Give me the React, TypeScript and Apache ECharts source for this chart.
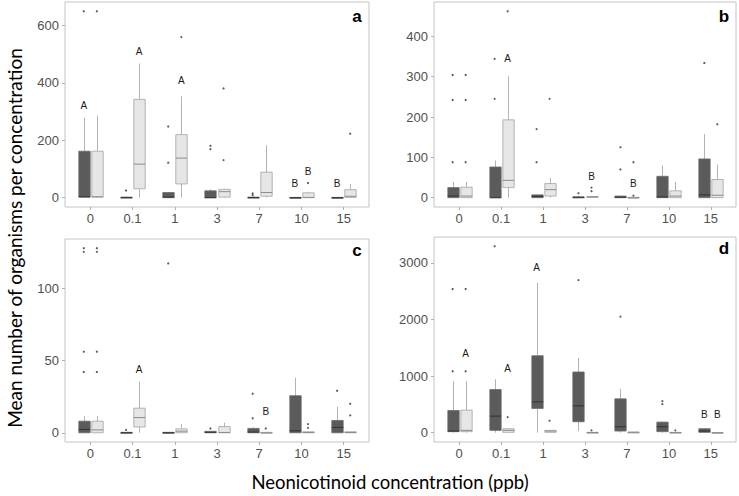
import React, { useEffect, useRef } from "react";
import * as echarts from "echarts";

const categories = ["0", "0.1", "1", "3", "7", "10", "15"];

// Box statistics per concentration: [lower whisker, Q1, median, Q3, upper whisker]
const aDarkBoxes = [
  [0, 2, 3, 162, 279],
  [0, 0, 0, 2, 4],
  [0, 0, 2, 18, 20],
  [0, 0, 0, 24, 30],
  [0, 0, 0, 2, 4],
  [0, 0, 0, 1, 1],
  [0, 0, 0, 1, 2],
];
const aLightBoxes = [
  [0, 2, 3, 162, 286],
  [0, 31, 117, 343, 468],
  [0, 48, 138, 220, 354],
  [0, 2, 21, 29, 31],
  [0, 5, 18, 89, 183],
  [0, 0, 1, 17, 20],
  [0, 1, 5, 28, 48],
];
// outliers: [category index, value]
const aDarkOutliers = [[0, 650], [1, 25], [2, 248], [2, 122], [3, 181], [3, 169], [4, 15], [4, 9]];
const aLightOutliers = [[0, 650], [2, 560], [3, 131], [3, 381], [5, 51], [6, 223]];
// letters: [category index, side (0 dark, 1 light), value, text]
const aLetters = [[0, 0, 320, "A"], [1, 1, 509, "A"], [2, 1, 408, "A"], [5, 0, 51, "B"], [5, 1, 93, "B"], [6, 0, 51, "B"]];
const aTicks = [0, 200, 400, 600];

const bDarkBoxes = [
  [0, 0, 4, 25, 39],
  [0, 0, 0, 76, 92],
  [0, 0, 3, 7, 7],
  [0, 0, 1, 2, 3],
  [0, 0, 1, 4, 5],
  [0, 0, 2, 53, 80],
  [0, 0, 7, 96, 158],
];
const bLightBoxes = [
  [0, 0, 4, 26, 39],
  [0, 25, 43, 193, 301],
  [0, 4, 20, 35, 49],
  [0, 1, 2, 3, 4],
  [0, 0, 0, 1, 2],
  [0, 0, 4, 17, 39],
  [0, 0, 6, 45, 82],
];
const bDarkOutliers = [[0, 88], [0, 242], [0, 304], [1, 245], [1, 344], [2, 170], [2, 88], [3, 11], [4, 125], [4, 70], [6, 334]];
const bLightOutliers = [[0, 88], [0, 242], [0, 304], [1, 462], [2, 245], [3, 16], [3, 25], [4, 88], [4, 5], [6, 182]];
const bLetters = [[1, 1, 345, "A"], [3, 1, 53, "B"], [4, 1, 35, "B"]];
const bTicks = [0, 100, 200, 300, 400];

const cDarkBoxes = [
  [0, 0, 2.3, 8, 11.4],
  [0, 0, 0, 0.3, 0.3],
  [0, 0, 0, 0.3, 0.3],
  [0, 0, 0.3, 1, 1],
  [0, 0, 0.5, 3, 4],
  [0, 0, 1.4, 25.6, 38],
  [0, 0, 3.7, 8.5, 18],
];
const cLightBoxes = [
  [0, 0, 2, 8, 11.4],
  [0, 4, 10.5, 17, 35.5],
  [0, 0, 1.1, 2.7, 6],
  [0, 0, 0.2, 4.3, 7],
  [0, 0, 0, 0.3, 0.3],
  [0, 0, 0.2, 0.7, 0.7],
  [0, 0, 0.2, 0.7, 0.7],
];
const cDarkOutliers = [[0, 42], [0, 56], [0, 125], [0, 127.5], [1, 2], [2, 117], [3, 3], [4, 10], [4, 27], [6, 29]];
const cLightOutliers = [[0, 42], [0, 56], [0, 125], [0, 127.5], [4, 3], [5, 3.4], [5, 6], [6, 12], [6, 20]];
const cLetters = [[1, 1, 44, "A"], [4, 1, 14.4, "B"]];
const cTicks = [0, 50, 100];

const dDarkBoxes = [
  [0, 18, 29, 392, 908],
  [0, 41, 293, 762, 943],
  [0, 428, 545, 1359, 2648],
  [29, 193, 474, 1072, 1318],
  [0, 29, 105, 598, 773],
  [0, 18, 105, 187, 193],
  [0, 6, 29, 70, 82],
];
const dLightBoxes = [
  [0, 18, 41, 398, 908],
  [0, 6, 41, 70, 80],
  [0, 6, 29, 41, 41],
  [0, 0, 3, 6, 10],
  [0, 0, 6, 12, 15],
  [0, 0, 3, 6, 8],
  [0, 0, 0, 3, 3],
];
const dDarkOutliers = [[0, 1084], [0, 2537], [1, 3292], [3, 2695], [4, 2050], [5, 556], [5, 504]];
const dLightOutliers = [[0, 1084], [0, 2537], [1, 275], [2, 211], [3, 41], [5, 41]];
const dLetters = [[0, 1, 1406, "A"], [1, 1, 1125, "A"], [2, 0, 2917, "A"], [6, 0, 322, "B"], [6, 1, 322, "B"]];
const dTicks = [0, 1000, 2000, 3000];

const panelLabels = ["a", "b", "c", "d"];

const DARK_FILL = "#5b5b5b";
const LIGHT_FILL = "#e6e6e6";
const BOX_STROKE = "#a3a3a3";
const WHISKER = "#b3b3b3";
const OFFSET = 0.155;
const BOX_W = 0.27;

function boxSeries(boxes: number[][], side: number, xi: number, fill: string, medColor: string, stroke: string) {
  const off = side === 0 ? -OFFSET : OFFSET;
  return {
    type: "custom",
    xAxisIndex: xi,
    yAxisIndex: xi,
    data: boxes.map((b, j) => [j + off, ...b]),
    encode: { x: 0, y: [1, 2, 3, 4, 5] },
    renderItem: (params: any, api: any) => {
      const x = api.value(0);
      const lo = api.coord([x, api.value(1)]);
      const q1 = api.coord([x, api.value(2)]);
      const med = api.coord([x, api.value(3)]);
      const q3 = api.coord([x, api.value(4)]);
      const hi = api.coord([x, api.value(5)]);
      const w = api.size([BOX_W, 0])[0];
      const cx = Math.round(q3[0]) + 0.5;
      const top = q3[1];
      const h = Math.max(q1[1] - q3[1], 1);
      return {
        type: "group",
        children: [
          { type: "line", shape: { x1: cx, y1: hi[1], x2: cx, y2: q3[1] }, style: { stroke: WHISKER, lineWidth: 1 } },
          { type: "line", shape: { x1: cx, y1: q1[1], x2: cx, y2: lo[1] }, style: { stroke: WHISKER, lineWidth: 1 } },
          { type: "rect", shape: { x: cx - w / 2, y: top, width: w, height: h }, style: { fill, stroke, lineWidth: 0.8 } },
          { type: "line", shape: { x1: cx - w / 2, y1: med[1], x2: cx + w / 2, y2: med[1] }, style: { stroke: medColor, lineWidth: 1 } },
        ],
      };
    },
    z: 2,
  };
}

function outlierSeries(pts: number[][], side: number, xi: number) {
  const off = side === 0 ? -OFFSET : OFFSET;
  return {
    type: "scatter",
    xAxisIndex: xi,
    yAxisIndex: xi,
    symbol: "circle",
    symbolSize: 2.2,
    itemStyle: { color: "#333" },
    data: pts.map((p) => [p[0] + off, p[1]]),
    z: 3,
  };
}

function letterSeries(letters: any[][], xi: number) {
  return {
    type: "custom",
    xAxisIndex: xi,
    yAxisIndex: xi,
    data: letters.map((l) => [l[0] + (l[1] === 0 ? -OFFSET : OFFSET), l[2], l[3]]),
    encode: { x: 0, y: 1 },
    renderItem: (params: any, api: any) => {
      const p = api.coord([api.value(0), api.value(1)]);
      const t = letters[params.dataIndex][3];
      return {
        type: "text",
        x: p[0],
        y: p[1],
        style: { text: t, fill: "#1a1a1a", fontSize: 10, fontFamily: "Liberation Sans", textAlign: "center", textVerticalAlign: "middle" },
      };
    },
    z: 4,
  };
}

const panels = [
  { dark: aDarkBoxes, light: aLightBoxes, dOut: aDarkOutliers, lOut: aLightOutliers, letters: aLetters, ticks: aTicks },
  { dark: bDarkBoxes, light: bLightBoxes, dOut: bDarkOutliers, lOut: bLightOutliers, letters: bLetters, ticks: bTicks },
  { dark: cDarkBoxes, light: cLightBoxes, dOut: cDarkOutliers, lOut: cLightOutliers, letters: cLetters, ticks: cTicks },
  { dark: dDarkBoxes, light: dLightBoxes, dOut: dDarkOutliers, lOut: dLightOutliers, letters: dLetters, ticks: dTicks },
];

// y range with 5% padding like ggplot
function yRange(p: any) {
  const all: number[] = [];
  p.dark.forEach((b: number[]) => all.push(...b));
  p.light.forEach((b: number[]) => all.push(...b));
  p.dOut.forEach((o: number[]) => all.push(o[1]));
  p.lOut.forEach((o: number[]) => all.push(o[1]));
  const mx = Math.max(...all);
  const mn = Math.min(...all);
  const pad = (mx - mn) * 0.05;
  return [mn - pad, mx + pad];
}

const grids = [
  { left: 65, top: 2, width: 304, height: 205 },
  { left: 434, top: 2, width: 302, height: 205 },
  { left: 65, top: 239, width: 304, height: 203 },
  { left: 434, top: 237, width: 302, height: 205 },
];
const letterPos = [
  [357, 16],
  [724, 16],
  [357, 250],
  [724, 248],
];

export default function App() {
  const ref = useRef<HTMLDivElement>(null);
  useEffect(() => {
    if (!ref.current) return;
    const chart = echarts.init(ref.current, undefined, { renderer: "svg" });
    const catIdx = categories.map((_, i) => i);
    const labelStyle = { color: "#505050", fontSize: 13, fontFamily: "Liberation Sans" };
    const option: any = {
      animation: false,
      backgroundColor: "#ffffff",
      grid: grids.map((g) => ({ ...g, show: true, borderColor: "#c4c4c4", borderWidth: 1, backgroundColor: "transparent", containLabel: false })),
      xAxis: panels.map((_, i) => ({
        type: "value",
        gridIndex: i,
        min: -0.6,
        max: 6.6,
        position: "bottom",
        splitLine: { show: false },
        axisLine: { show: false, onZero: false },
        axisTick: { show: true, customValues: catIdx, length: 3, lineStyle: { color: "#b0b0b0" } },
        axisLabel: { ...labelStyle, customValues: catIdx, margin: 5, formatter: (v: number) => categories[Math.round(v)] },
      })),
      yAxis: panels.map((p, i) => {
        const [mn, mx] = yRange(p);
        return {
          type: "value",
          gridIndex: i,
          min: mn,
          max: mx,
          position: "left",
          splitLine: { show: false },
          axisLine: { show: false, onZero: false },
          axisTick: { show: true, customValues: p.ticks, length: 3, lineStyle: { color: "#b0b0b0" } },
          axisLabel: { ...labelStyle, customValues: p.ticks, margin: 6, formatter: (v: number) => String(v) },
        };
      }),
      series: panels.flatMap((p, i) => [
        boxSeries(p.dark, 0, i, DARK_FILL, "#333333", "#6a6a6a"),
        boxSeries(p.light, 1, i, LIGHT_FILL, "#8c8c8c", BOX_STROKE),
        outlierSeries(p.dOut, 0, i),
        outlierSeries(p.lOut, 1, i),
        letterSeries(p.letters, i),
      ]),
      graphic: [
        ...panelLabels.map((t, i) => ({
          type: "text",
          x: letterPos[i][0],
          y: letterPos[i][1],
          style: { text: t, fontSize: 17, fontWeight: "bold", fontFamily: "Liberation Sans", fill: "#000", textAlign: "center", textVerticalAlign: "middle" },
        })),
        {
          type: "text",
          x: 14,
          y: 238,
          rotation: Math.PI / 2,
          style: { text: "Mean number of organisms per concentration", fontSize: 19, fontFamily: "Lato", fill: "#000", textAlign: "center", textVerticalAlign: "middle" },
        },
        {
          type: "text",
          x: 390,
          y: 482,
          style: { text: "Neonicotinoid concentration (ppb)", fontSize: 18.5, fontFamily: "Lato", fill: "#000", textAlign: "center", textVerticalAlign: "middle" },
        },
      ],
    };
    chart.setOption(option);
    return () => chart.dispose();
  }, []);
  return <div ref={ref} style={{ position: "fixed", left: 0, top: 0, width: 739, height: 496 }} />;
}
